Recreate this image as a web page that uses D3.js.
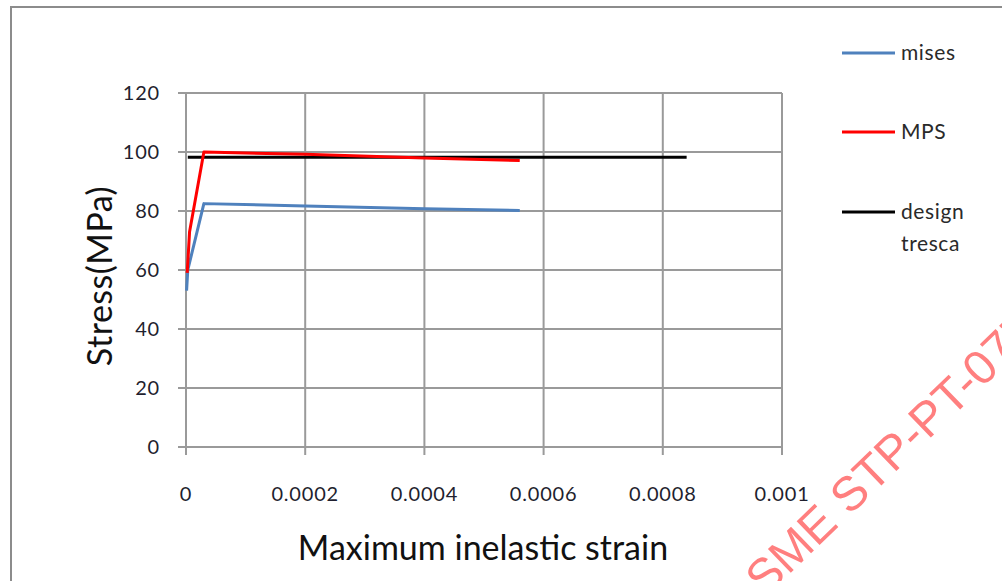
<!DOCTYPE html>
<html><head><meta charset="utf-8">
<script src="https://cdn.jsdelivr.net/npm/d3@7"></script>
<style>body{margin:0;background:#fff}svg{display:block}</style>
</head><body>
<script>
const xTicks = [0, 0.0002, 0.0004, 0.0006, 0.0008, 0.001];
const xTickLabels = ["0", "0.0002", "0.0004", "0.0006", "0.0008", "0.001"];
const yTicks = [0, 20, 40, 60, 80, 100, 120];
const misesX = [0.000001, 0.000003, 0.00003, 0.0002, 0.0004, 0.00056];
const misesY = [53, 60, 82.5, 81.7, 80.8, 80.2];
const mpsX = [0.000002, 0.000006, 0.00003, 0.0002, 0.0004, 0.00056];
const mpsY = [59, 73, 100, 99.2, 98, 97.1];
const trescaX = [0.000003, 0.00084];
const trescaY = [98.2, 98.2];
const seriesNames = ["mises", "MPS", "design tresca"];
const seriesColors = ["#4f81bd", "#ff0000", "#000000"];

const W = 1002, H = 581;
const svg = d3.select("body").append("svg").attr("width", W).attr("height", H);
const font = "Lato, 'Open Sans', sans-serif";

svg.append("rect").attr("x", 11).attr("y", 7).attr("width", 1100).attr("height", 700)
  .attr("fill", "none").attr("stroke", "#8c8c8c").attr("stroke-width", 2);

const x = d3.scaleLinear().domain([0, 0.001]).range([186, 782]);
const y = d3.scaleLinear().domain([0, 120]).range([447, 93]);

// grid
const g = svg.append("g");
g.selectAll(".hg").data(yTicks).enter().append("line")
  .attr("x1", 178).attr("x2", 782).attr("y1", d => y(d)).attr("y2", d => y(d))
  .attr("stroke", "#9a9a9a").attr("stroke-width", 2);
g.selectAll(".vg").data(xTicks).enter().append("line")
  .attr("x1", d => x(d)).attr("x2", d => x(d)).attr("y1", 93).attr("y2", 455)
  .attr("stroke", "#9a9a9a").attr("stroke-width", 2);

// tick labels
svg.selectAll(".yl").data(yTicks).enter().append("text")
  .attr("x", 160).attr("y", d => y(d)).attr("dy", "0.36em").attr("text-anchor", "end")
  .attr("font-family", font).attr("font-size", 20).attr("letter-spacing", 0.8).attr("fill", "#1f1f2f").text(d => d);
svg.selectAll(".xl").data(xTicks).enter().append("text")
  .attr("x", d => x(d)).attr("y", 494).attr("dy", "0.36em").attr("text-anchor", "middle")
  .attr("font-family", font).attr("font-size", 20).attr("letter-spacing", 0.8).attr("fill", "#1f1f2f")
  .text((d, i) => xTickLabels[i]);

// axis titles
svg.append("text").attr("transform", "translate(100,276) rotate(-90)")
  .attr("text-anchor", "middle").attr("dy", "0.35em")
  .attr("font-family", font).attr("font-size", 34).attr("letter-spacing", 0.5).attr("fill", "#111").text("Stress(MPa)");
svg.append("text").attr("x", 483).attr("y", 548).attr("text-anchor", "middle").attr("dy", "0.35em")
  .attr("font-family", font).attr("font-size", 34).attr("fill", "#111").text("Maximum inelastic strain");

// lines
const line = d3.line().x(d => x(d[0])).y(d => y(d[1]));
const seriesData = [
  misesX.map((v, i) => [v, misesY[i]]),
  mpsX.map((v, i) => [v, mpsY[i]]),
  trescaX.map((v, i) => [v, trescaY[i]])
];
[0, 2, 1].forEach(i => {
  svg.append("path").attr("d", line(seriesData[i])).attr("fill", "none")
    .attr("stroke", seriesColors[i]).attr("stroke-width", 3).attr("stroke-linejoin", "round");
});

// legend
const legY = [53, 132, 212];
seriesNames.forEach((n, i) => {
  svg.append("line").attr("x1", 842).attr("x2", 895).attr("y1", legY[i]).attr("y2", legY[i])
    .attr("stroke", seriesColors[i]).attr("stroke-width", 3);
  const parts = n === "design tresca" ? ["design", "tresca"] : [n];
  parts.forEach((p, j) => {
    svg.append("text").attr("x", 901).attr("y", legY[i] + j * 32).attr("dy", "0.35em")
      .attr("font-family", font).attr("font-size", 21).attr("letter-spacing", 0.6).attr("fill", "#2a2a2a").text(p);
  });
});

// watermark
svg.append("text").attr("transform", "translate(742,620) rotate(-44)")
  .attr("font-family", "'Liberation Sans', Arial, sans-serif").attr("font-size", 48)
  .attr("fill", "#ff0000").attr("fill-opacity", 0.5).text("ASME STP-PT-077");
</script>
</body></html>
